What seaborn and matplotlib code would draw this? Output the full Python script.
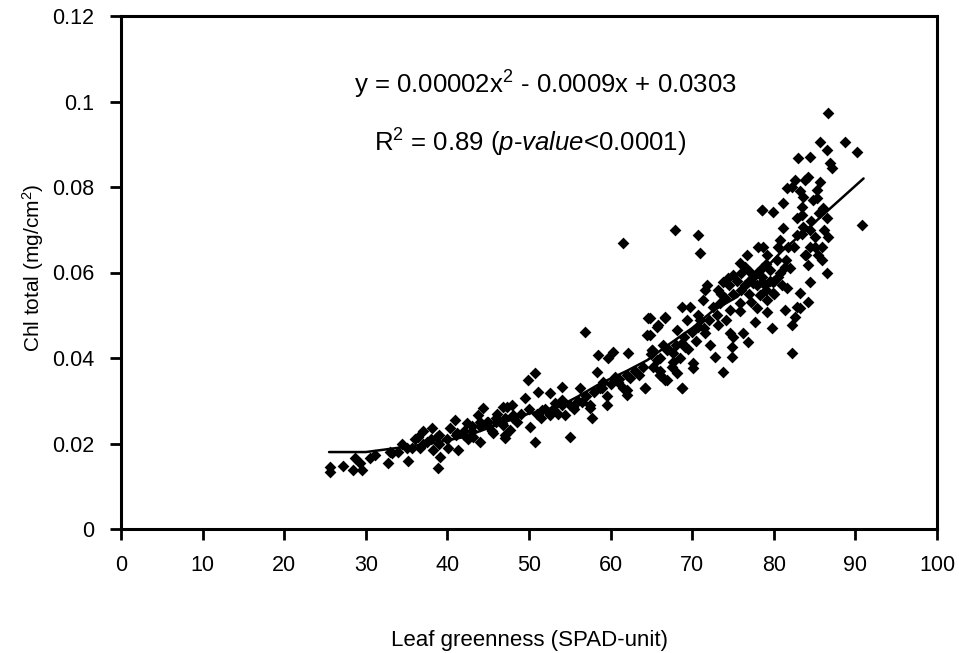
import matplotlib
matplotlib.use("Agg")
import matplotlib.pyplot as plt
import seaborn as sns
import pandas as pd

# ---- data ----
spad = [
    25.6, 25.6, 27.2, 28.7, 28.4, 29.5, 29.3, 30.5, 31.1, 32.7, 33.2, 34.4, 35.2, 35.7, 36.4, 36.6,
    37.0, 37.5, 38.1, 38.2, 38.8, 39.1, 38.7, 40.1, 40.3, 40.9, 41.2, 41.3, 42.4, 43.1, 43.8, 44.0,
    44.4, 44.9, 45.6, 46.1, 46.7, 46.8, 47.1, 47.9, 47.7,
    34.0, 36.0, 37.0, 38.0, 39.0, 42.0, 43.0, 44.0, 45.0, 46.0, 40.0, 41.0, 35.0, 33.0, 39.0,
    47.3, 46.8, 47.1, 48.0, 49.5, 49.9, 50.7, 50.1, 50.7, 51.1, 51.6, 52.6, 52.6, 53.2, 54.0, 54.0,
    54.4, 55.0, 55.4, 56.3, 56.5, 56.9, 57.5, 57.7, 58.3, 58.5, 58.7, 59.1, 59.6, 59.7, 60.3, 60.5,
    60.9, 62.0, 62.0, 62.1, 62.4, 64.2, 64.5, 64.6, 65.1, 65.7, 65.8, 66.1, 66.7, 66.7, 66.9, 61.5,
    70.1, 68.8,
    67.9, 70.7, 71.0, 78.6, 78.1, 75.9, 76.7, 74.4, 73.8, 71.8, 73.2, 71.3, 69.7, 68.8, 70.7, 73.4,
    74.6, 75.9, 77.9, 77.7, 76.2, 76.8, 75.0, 74.9, 74.9, 73.8, 72.8, 72.2, 71.6, 73.2, 70.1, 69.1,
    68.1, 66.7, 64.8, 64.8, 65.7, 66.4, 65.1, 65.2, 66.1, 66.9, 67.6, 68.1, 68.8, 64.2, 67.6, 68.8,
    69.4, 70.7, 74.6, 71.6, 75.0, 76.5, 77.1, 77.5, 78.6, 78.3,
    86.6, 85.7, 86.5, 88.7, 90.2, 83.0, 84.4, 86.9, 87.1, 84.2, 83.8, 82.6, 82.2, 81.6, 85.7, 85.3,
    83.6, 85.3, 81.1, 78.6, 79.9, 83.5, 86.0, 83.5, 86.5, 82.8, 90.8, 81.1, 83.6, 84.4, 82.8, 85.0,
    86.6, 80.8, 80.5, 81.7, 84.4, 85.9, 85.4, 83.8, 84.2, 85.9, 86.5, 84.4, 78.7, 79.2, 80.4, 81.4,
    80.8, 79.5, 78.6, 78.9, 79.9, 81.6, 83.2, 79.9, 79.2, 84.2, 82.8, 81.4, 83.2, 79.2, 82.6, 82.2,
    79.8, 82.2,
    76.0, 77.0, 78.0, 79.0, 80.0, 77.0, 78.0, 79.0, 76.0, 80.0, 75.0, 74.0, 73.0, 72.0, 71.0, 70.0,
    69.0, 68.0, 67.0, 66.0, 65.0, 64.0, 63.0, 62.0, 61.0, 60.0, 59.0, 58.0, 57.0, 56.0, 55.0, 54.0,
    53.0, 52.0, 51.0, 50.0, 49.0, 48.0, 47.0, 46.0, 45.0, 44.0, 43.0, 42.0,
    72.5, 73.5, 74.5, 75.5, 76.5, 77.5, 78.5, 79.5, 80.5, 81.5, 82.5, 83.5, 84.5, 85.5, 84.8, 83.2,
    86.2, 85.0, 84.0, 82.0, 81.0, 77.2, 75.8, 74.2, 71.5, 70.5, 69.5, 68.5, 67.5, 66.0, 63.5, 61.5,
    59.5, 57.5, 55.5, 53.5, 51.5, 48.5, 45.5, 42.5,
]
chl = [
    0.0145, 0.0133, 0.0147, 0.0166, 0.0138, 0.0138, 0.0154, 0.0166, 0.0173, 0.0154, 0.0178, 0.0200, 0.0160, 0.0190, 0.0215, 0.0190,
    0.0230, 0.0204, 0.0236, 0.0185, 0.0143, 0.0168, 0.0215, 0.0190, 0.0236, 0.0255, 0.0225, 0.0185, 0.0248, 0.0215, 0.0267, 0.0204,
    0.0283, 0.0250, 0.0225, 0.0270, 0.0248, 0.0285, 0.0213, 0.0290, 0.0232,
    0.0180, 0.0210, 0.0200, 0.0210, 0.0200, 0.0230, 0.0240, 0.0250, 0.0240, 0.0260, 0.0210, 0.0220, 0.0190, 0.0180, 0.0220,
    0.0285, 0.0243, 0.0220, 0.0267, 0.0306, 0.0349, 0.0365, 0.0239, 0.0204, 0.0320, 0.0278, 0.0318, 0.0267, 0.0295, 0.0332, 0.0302,
    0.0267, 0.0215, 0.0285, 0.0330, 0.0297, 0.0460, 0.0283, 0.0260, 0.0368, 0.0407, 0.0330, 0.0344, 0.0290, 0.0400, 0.0414, 0.0356,
    0.0344, 0.0325, 0.0313, 0.0412, 0.0353, 0.0330, 0.0454, 0.0493, 0.0419, 0.0395, 0.0477, 0.0360, 0.0496, 0.0349, 0.0419, 0.0670,
    0.0377, 0.0330,
    0.0700, 0.0688, 0.0646, 0.0746, 0.0660, 0.0622, 0.0641, 0.0587, 0.0578, 0.0571, 0.0559, 0.0536, 0.0519, 0.0519, 0.0500, 0.0529,
    0.0512, 0.0529, 0.0517, 0.0484, 0.0458, 0.0437, 0.0449, 0.0426, 0.0402, 0.0367, 0.0402, 0.0430, 0.0458, 0.0477, 0.0388, 0.0426,
    0.0465, 0.0494, 0.0494, 0.0454, 0.0473, 0.0430, 0.0419, 0.0379, 0.0360, 0.0349, 0.0390, 0.0365, 0.0330, 0.0330, 0.0412, 0.0435,
    0.0489, 0.0473, 0.0458, 0.0559, 0.0594, 0.0613, 0.0601, 0.0575, 0.0578, 0.0547,
    0.0973, 0.0905, 0.0887, 0.0905, 0.0882, 0.0868, 0.0870, 0.0856, 0.0844, 0.0823, 0.0816, 0.0816, 0.0800, 0.0798, 0.0812, 0.0793,
    0.0777, 0.0774, 0.0763, 0.0746, 0.0742, 0.0753, 0.0751, 0.0735, 0.0727, 0.0727, 0.0711, 0.0704, 0.0706, 0.0700, 0.0688, 0.0683,
    0.0683, 0.0676, 0.0660, 0.0660, 0.0660, 0.0660, 0.0641, 0.0641, 0.0618, 0.0629, 0.0599, 0.0578, 0.0660, 0.0641, 0.0629, 0.0613,
    0.0599, 0.0606, 0.0590, 0.0571, 0.0578, 0.0564, 0.0552, 0.0552, 0.0536, 0.0531, 0.0519, 0.0512, 0.0517, 0.0508, 0.0496, 0.0477,
    0.0470, 0.0412,
    0.0560, 0.0580, 0.0570, 0.0560, 0.0580, 0.0550, 0.0600, 0.0620, 0.0600, 0.0550, 0.0550, 0.0540, 0.0500, 0.0490, 0.0490, 0.0460,
    0.0450, 0.0430, 0.0420, 0.0400, 0.0410, 0.0380, 0.0370, 0.0360, 0.0350, 0.0340, 0.0330, 0.0320, 0.0310, 0.0300, 0.0290, 0.0290,
    0.0280, 0.0280, 0.0270, 0.0280, 0.0270, 0.0260, 0.0260, 0.0250, 0.0250, 0.0240, 0.0230, 0.0220,
    0.0520, 0.0550, 0.0570, 0.0580, 0.0570, 0.0590, 0.0610, 0.0580, 0.0590, 0.0630, 0.0660, 0.0690, 0.0720, 0.0740, 0.0770, 0.0790,
    0.0700, 0.0660, 0.0640, 0.0610, 0.0570, 0.0530, 0.0510, 0.0490, 0.0470, 0.0440, 0.0420, 0.0400, 0.0380, 0.0370, 0.0360, 0.0330,
    0.0310, 0.0290, 0.0280, 0.0270, 0.0260, 0.0250, 0.0230, 0.0210,
]
fit_x = [25.5, 30, 34, 38, 42, 47, 50, 53.5, 56, 58.7, 62, 64.5, 67, 70, 72.5, 75.5, 78, 81, 84, 87.5, 91]
fit_y = [0.018, 0.018, 0.019, 0.020, 0.0215, 0.025, 0.027, 0.0285, 0.031, 0.034, 0.037, 0.0395, 0.043,
         0.047, 0.051, 0.0543, 0.059, 0.065, 0.070, 0.076, 0.082]
x_ticks = [0, 10, 20, 30, 40, 50, 60, 70, 80, 90, 100]
y_ticks = [0, 0.02, 0.04, 0.06, 0.08, 0.1, 0.12]
y_tick_labels = ["0", "0.02", "0.04", "0.06", "0.08", "0.1", "0.12"]
eq_text = "y = 0.00002x$^2$ - 0.0009x + 0.0303"
r2_text = "R$^2$ = 0.89 ($\\mathit{p}$-$\\mathit{value}$<0.0001)"

sns.set_style("ticks")
plt.rcParams["font.family"] = ["Liberation Sans", "DejaVu Sans"]
plt.rcParams["mathtext.fontset"] = "custom"
plt.rcParams["mathtext.rm"] = "Liberation Sans"
plt.rcParams["mathtext.it"] = "Liberation Sans:italic"
plt.rcParams["mathtext.default"] = "regular"

df = pd.DataFrame({"spad": spad, "chl": chl})
fit = pd.DataFrame({"x": fit_x, "y": fit_y})

fig = plt.figure(figsize=(9.59, 6.53), dpi=100)
ax = fig.add_axes([121 / 959, 1 - 529 / 653, 816 / 959, 513 / 653])

sns.scatterplot(data=df, x="spad", y="chl", marker="D", s=36, color="black",
                edgecolor="black", linewidth=0, ax=ax, zorder=3)
sns.lineplot(data=fit, x="x", y="y", color="black", linewidth=1.8, estimator=None,
             sort=False, ax=ax, zorder=4)

ax.set_xlim(0, 100)
ax.set_ylim(0, 0.12)
ax.set_xticks(x_ticks)
ax.set_xticklabels([str(v) for v in x_ticks])
ax.set_yticks(y_ticks)
ax.set_yticklabels(y_tick_labels)
ax.tick_params(axis="both", direction="out", length=8, width=2, color="black",
               labelsize=15.5, labelcolor="black", bottom=True, left=True,
               top=False, right=False)
ax.tick_params(axis="x", pad=11)
ax.tick_params(axis="y", pad=11)
for sp in ax.spines.values():
    sp.set_visible(True)
    sp.set_color("black")
    sp.set_linewidth(2.2)

ax.set_xlabel("Leaf greenness (SPAD-unit)", fontsize=16, color="black")
ax.set_ylabel("Chl total (mg/cm$^2$)", fontsize=15, color="black")
ax.xaxis.label.set_va("center")
ax.xaxis.set_label_coords(0.501, -0.218)
ax.yaxis.label.set_va("center")
ax.yaxis.set_label_coords(-0.108, 0.51)

ax.text(52, 0.1039, eq_text, fontsize=18.5, ha="center", va="center", color="black")
ax.text(50.1, 0.0903, r2_text, fontsize=18.5, ha="center", va="center", color="black")

fig.savefig("out.png", dpi=100, facecolor="white")
